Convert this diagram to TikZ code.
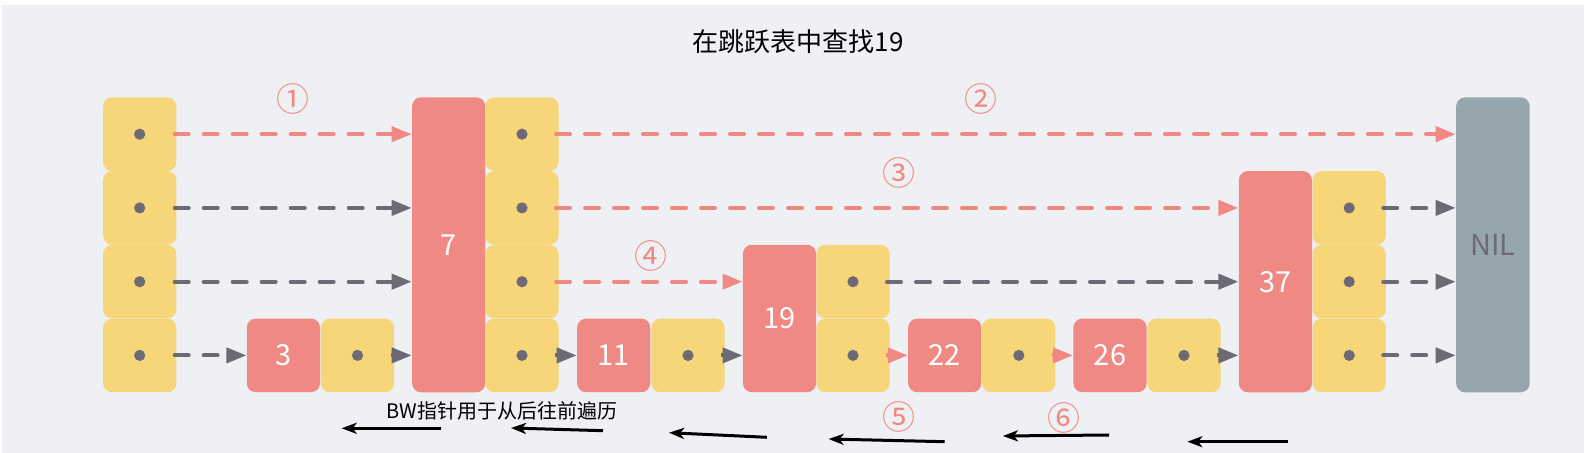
\documentclass[tikz,border=0pt]{standalone}
\usepackage{fontspec}
\setmainfont{Noto Sans CJK SC}
\usetikzlibrary{arrows.meta}
\definecolor{bgc}{HTML}{EFF0F4}
\definecolor{yel}{HTML}{F7D679}
\definecolor{kred}{HTML}{F08884}
\definecolor{nilc}{HTML}{96A6AE}
\definecolor{dgray}{HTML}{6B6A75}
\begin{document}
\begin{tikzpicture}[x=0.5pt,y=-0.5pt,
  cell/.style={fill=yel, rounded corners=4.5pt, minimum width=36.6pt, minimum height=36.8pt, inner sep=0pt,
    path picture={\fill[dgray] (path picture bounding box.center) circle (2.8pt);}},
  keybox/.style={fill=kred, rounded corners=4.5pt, minimum width=36.6pt, inner sep=0pt, text=white, font=\fontsize{14.5}{16}\selectfont},
  nilbox/.style={fill=nilc, rounded corners=4.5pt, minimum width=36.8pt, minimum height=147.5pt, inner sep=0pt, text=dgray, font=\fontsize{14.5}{16}\selectfont},
  glink/.style={draw=dgray, line width=2pt, line cap=round, dash pattern=on 7pt off 7.5pt, -{Triangle[length=10pt,width=7.5pt]}},
  plink/.style={draw=kred, line width=2pt, line cap=round, dash pattern=on 7pt off 7.5pt, -{Triangle[length=10pt,width=7.5pt]}},
  gtip/.style={draw=dgray, fill=dgray, line width=2pt, -{Triangle[length=10pt,width=7.5pt]}},
  ptip/.style={draw=kred, fill=kred, line width=2pt, -{Triangle[length=10pt,width=7.5pt]}},
  num/.style={text=kred, font=\fontsize{16.5}{18}\selectfont, inner sep=0pt},
  bw/.style={draw=black, line width=1.5pt, -{Stealth[length=7.5pt,width=5.5pt,inset=2pt]}}
]
\useasboundingbox (0,0) rectangle (1584,453);
\fill[bgc] (2,5) rectangle (1584,453);

% title
\node[font=\fontsize{13}{15}\selectfont] (title) at (798,41.7) {在跳跃表中查找19};

% header column
\node[cell] (h1) at (139.7,134.2) {};
\node[cell] (h2) at (139.7,207.9) {};
\node[cell] (h3) at (139.7,281.7) {};
\node[cell] (h4) at (139.7,355.4) {};

% 3
\node[keybox, minimum height=36.8pt] (k3) at (283.4,355.4) {3};
\node[cell] (c3) at (357.5,355.4) {};
% 7
\node[keybox, minimum height=147.5pt] (k7) at (448.7,244.8) {7};
\node[cell] (c7a) at (522,134.2) {};
\node[cell] (c7b) at (522,207.9) {};
\node[cell] (c7c) at (522,281.7) {};
\node[cell] (c7d) at (522,355.4) {};
% 11
\node[keybox, minimum height=36.8pt] (k11) at (613.7,355.4) {11};
\node[cell] (c11) at (688,355.4) {};
% 19
\node[keybox, minimum height=73.7pt] (k19) at (779.5,318.5) {19};
\node[cell] (c19c) at (853,281.7) {};
\node[cell] (c19d) at (853,355.4) {};
% 22
\node[keybox, minimum height=36.8pt] (k22) at (944.8,355.4) {22};
\node[cell] (c22) at (1018.8,355.4) {};
% 26
\node[keybox, minimum height=36.8pt] (k26) at (1110,355.4) {26};
\node[cell] (c26) at (1184,355.4) {};
% 37
\node[keybox, minimum height=110.6pt] (k37) at (1275.4,281.7) {37};
\node[cell] (c37b) at (1349.2,207.9) {};
\node[cell] (c37c) at (1349.2,281.7) {};
\node[cell] (c37d) at (1349.2,355.4) {};
% NIL
\node[nilbox] (nil) at (1492.9,244.8) {NIL};

% level 4
\draw[plink] ([xshift=-1pt]h1.east) -- (k7.west |- h1.east);
\draw[plink] ([xshift=-1.5pt]c7a.east) -- (nil.west |- c7a.east);
% level 3
\draw[glink] ([xshift=-1pt]h2.east) -- (k7.west |- h2.east);
\draw[plink] ([xshift=-1.5pt]c7b.east) -- (k37.west |- c7b.east);
\draw[glink] ([xshift=-1.5pt]c37b.east) -- (nil.west |- c37b.east);
% level 2
\draw[glink] ([xshift=-1pt]h3.east) -- (k7.west |- h3.east);
\draw[plink] ([xshift=-1.5pt]c7c.east) -- (k19.west |- c7c.east);
\draw[glink] ([xshift=-1.5pt]c19c.east) -- (k37.west |- c19c.east);
\draw[glink] ([xshift=-1.5pt]c37c.east) -- (nil.west |- c37c.east);
% level 1
\draw[glink] ([xshift=-1pt]h4.east) -- (k3.west);
\draw[gtip] ([xshift=-2pt]c3.east) -- (k7.west |- c3.east);
\draw[gtip] ([xshift=-2pt]c7d.east) -- (k11.west);
\draw[gtip] ([xshift=-2pt]c11.east) -- (k19.west |- c11.east);
\draw[ptip] ([xshift=-2pt]c19d.east) -- (k22.west);
\draw[ptip] ([xshift=-2pt]c22.east) -- (k26.west);
\draw[gtip] ([xshift=-2pt]c26.east) -- (k37.west |- c26.east);
\draw[glink] ([xshift=-1.5pt]c37d.east) -- (nil.west |- c37d.east);

% step labels
\node[num] (n1) at (293,99) {①};
\node[num] (n2) at (981,99.3) {②};
\node[num] (n3) at (898.6,173.3) {③};
\node[num] (n4) at (651,256) {④};
\node[num] (n5) at (898.6,416.7) {⑤};
\node[num] (n6) at (1063.6,418) {⑥};

% backward pointer note
\node[font=\fontsize{10}{12}\selectfont, inner sep=0pt] (bwtext) at (501.7,410.7) {BW指针用于从后往前遍历};
\coordinate (a1s) at (441,428.3);  \coordinate (a1e) at (341.7,428.3);
\coordinate (a2s) at (603,430.7);  \coordinate (a2e) at (511,428);
\coordinate (a3s) at (767,437.3);  \coordinate (a3e) at (669,432.7);
\coordinate (a4s) at (944.6,441.7); \coordinate (a4e) at (828.6,439);
\coordinate (a5s) at (1109,435);   \coordinate (a5e) at (1002.9,436);
\coordinate (a6s) at (1288.3,441.7); \coordinate (a6e) at (1187.3,441.7);
\draw[bw] (a1s) -- (a1e);
\draw[bw] (a2s) -- (a2e);
\draw[bw] (a3s) -- (a3e);
\draw[bw] (a4s) -- (a4e);
\draw[bw] (a5s) -- (a5e);
\draw[bw] (a6s) -- (a6e);
\end{tikzpicture}
\end{document}
